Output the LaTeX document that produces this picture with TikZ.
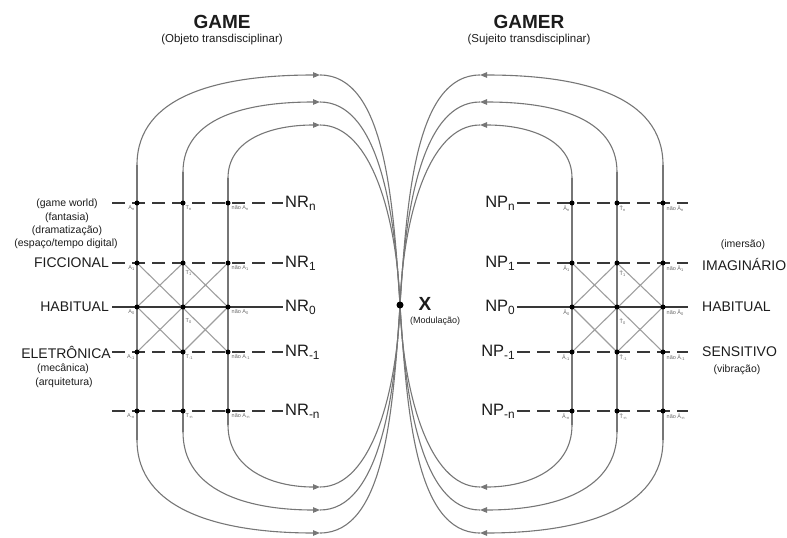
\documentclass[tikz,border=0pt]{standalone}
\usepackage{fontspec}
\setmainfont{Liberation Sans}
\usetikzlibrary{arrows.meta}

\definecolor{loopgray}{HTML}{767676}
\definecolor{crossgray}{HTML}{9E9E9E}
\definecolor{darkline}{HTML}{383838}
\definecolor{ink}{HTML}{1C1C1C}
\definecolor{labgray}{HTML}{666666}

% lowered, reduced index
\newcommand\dn[1]{\raisebox{-0.35ex}{\scalebox{0.72}{#1}}}

\begin{document}
\begin{tikzpicture}[x=1pt,y=-1pt,
  loopline/.style={draw=loopgray, line width=1.1pt},
  tipped/.style={loopline, -{Triangle[length=7pt,width=5.5pt]}},
  levelline/.style={draw=darkline, line width=1.3pt, dash pattern=on 13pt off 7pt},
  zeroline/.style={draw=darkline, line width=1.3pt},
  crossline/.style={draw=crossgray, line width=1.1pt},
  dot/.style={circle, fill=black, inner sep=0pt, minimum size=5pt},
  tiny/.style={font=\fontsize{5.5}{6}\selectfont, text=labgray, inner sep=0.5pt},
  level/.style={font=\fontsize{16.5}{17}\selectfont, text=ink, inner sep=2pt},
  side/.style={font=\fontsize{14}{14}\selectfont, text=ink, inner sep=0pt},
  note/.style={font=\fontsize{10.5}{11}\selectfont, text=ink, inner sep=0pt},
  title/.style={font=\bfseries\fontsize{19}{19}\selectfont, text=ink, inner sep=0pt},
  subtitle/.style={font=\fontsize{11.5}{12}\selectfont, text=ink, inner sep=0pt}]

\useasboundingbox (0,0) rectangle (787,538);
\coordinate (X) at (400,305);

% ---- headings ----
\node[title] (game) at (222,22) {GAME};
\node[subtitle] (gamesub) at (222,40) {(Objeto transdisciplinar)};
\node[title] (gamer) at (529,22) {GAMER};
\node[subtitle] (gamersub) at (529,40) {(Sujeito transdisciplinar)};

% ---- the six loops, left side and its mirror image ----
\foreach \sx/\dx in {1/0,-1/800}{
  \begin{scope}[xshift=\dx pt, xscale=\sx]
    % verticals
    \draw[loopline] (137,440) -- (137,165);
    \draw[loopline] (183,432) -- (183,172);
    \draw[loopline] (228,425) -- (228,178);
    % upper arcs
    \draw[tipped] (137,165) .. controls (137,95) and (220,75) .. (320,75);
    \draw[loopline] (320,75) .. controls (385,75) and (393,200) .. (X);
    \draw[tipped] (183,172) .. controls (183,118) and (245,102) .. (320,102);
    \draw[loopline] (320,102) .. controls (378,102) and (395,210) .. (X);
    \draw[tipped] (228,178) .. controls (228,140) and (270,125) .. (320,125);
    \draw[loopline] (320,125) .. controls (372,125) and (397,220) .. (X);
    % lower arcs
    \draw[tipped] (137,440) .. controls (137,510) and (220,533) .. (320,533);
    \draw[loopline] (320,533) .. controls (385,533) and (393,410) .. (X);
    \draw[tipped] (183,432) .. controls (183,490) and (245,510) .. (320,510);
    \draw[loopline] (320,510) .. controls (378,510) and (395,400) .. (X);
    \draw[tipped] (228,425) .. controls (228,468) and (270,487) .. (320,487);
    \draw[loopline] (320,487) .. controls (372,487) and (397,390) .. (X);
  \end{scope}
}

% ---- grid points ----
\foreach \r/\ry in {pn/203,p1/263,z/307,m1/352,mn/411}{
  \coordinate (La\r) at (137,\ry);
  \coordinate (Lt\r) at (183,\ry);
  \coordinate (Ln\r) at (228,\ry);
  \coordinate (Ra\r) at (572,\ry);
  \coordinate (Rt\r) at (617,\ry);
  \coordinate (Rn\r) at (663,\ry);
  \coordinate (Ls\r) at (112,\ry);
  \coordinate (Re\r) at (688,\ry);
}

% ---- level names ----
\node[level, anchor=west] (NRpn) at (283,203) {NR\dn{n}};
\node[level, anchor=west] (NRp1) at (283,263) {NR\dn{1}};
\node[level, anchor=west] (NRz)  at (283,307) {NR\dn{0}};
\node[level, anchor=west] (NRm1) at (283,352) {NR\dn{-1}};
\node[level, anchor=west] (NRmn) at (283,411) {NR\dn{-n}};
\node[level, anchor=east] (NPpn) at (517,203) {NP\dn{n}};
\node[level, anchor=east] (NPp1) at (517,263) {NP\dn{1}};
\node[level, anchor=east] (NPz)  at (517,307) {NP\dn{0}};
\node[level, anchor=east] (NPm1) at (517,352) {NP\dn{-1}};
\node[level, anchor=east] (NPmn) at (517,411) {NP\dn{-n}};

% ---- level lines ----
\foreach \r in {pn,p1,m1,mn}{
  \draw[levelline] (Ls\r) -- (NR\r.west);
  \draw[levelline] (NP\r.east) -- (Re\r);
}
\draw[zeroline] (Lsz) -- (NRz.west);
\draw[zeroline] (NPz.east) -- (Rez);

% ---- crossings between levels 1 and -1 ----
\foreach \s in {L,R}{
  \draw[crossline] (\s ap1) -- (\s nm1);
  \draw[crossline] (\s np1) -- (\s am1);
  \draw[crossline] (\s tp1) -- (\s az) -- (\s tm1);
  \draw[crossline] (\s tp1) -- (\s nz) -- (\s tm1);
}

% ---- dots ----
\foreach \s in {L,R}{
  \foreach \c in {a,t,n}{
    \foreach \r in {pn,p1,z,m1,mn}{
      \node[dot] at (\s\c\r) {};
    }
  }
}
\node[dot, minimum size=7pt] (Xdot) at (X) {};
\node[font=\bfseries\fontsize{19}{19}\selectfont, text=ink, inner sep=0pt] (Xlbl) at (425,304) {X};
\node[font=\fontsize{9}{9}\selectfont, text=ink, inner sep=0pt, anchor=west] (modl) at (410,321) {(Modulação)};

% ---- point labels, left ----
\node[tiny, anchor=north east] (la1) at (135,205) {A\dn{n}};
\node[tiny, anchor=north west] (lt1) at (185,205) {T\dn{n}};
\node[tiny, anchor=north west] (ln1) at (231,205) {não A\dn{n}};
\node[tiny, anchor=north east] (la2) at (135,265) {A\dn{1}};
\node[tiny, anchor=north west] (lt2) at (185,270) {T\dn{1}};
\node[tiny, anchor=north west] (ln2) at (231,265) {não A\dn{1}};
\node[tiny, anchor=north east] (la3) at (135,309) {A\dn{0}};
\node[tiny, anchor=north west] (lt3) at (185,318) {T\dn{0}};
\node[tiny, anchor=north west] (ln3) at (231,309) {não A\dn{0}};
\node[tiny, anchor=north east] (la4) at (135,354) {A\dn{-1}};
\node[tiny, anchor=north west] (lt4) at (185,354) {T\dn{-1}};
\node[tiny, anchor=north west] (ln4) at (231,354) {não A\dn{-1}};
\node[tiny, anchor=north east] (la5) at (135,413) {A\dn{-n}};
\node[tiny, anchor=north west] (lt5) at (185,413) {T\dn{-n}};
\node[tiny, anchor=north west] (ln5) at (231,413) {não A\dn{-n}};

% ---- point labels, right ----
\node[tiny, anchor=north east] (ra1) at (570,205) {Ā\dn{n}};
\node[tiny, anchor=north west] (rt1) at (619,205) {T̄\dn{n}};
\node[tiny, anchor=north west] (rn1) at (666,205) {não Ā\dn{n}};
\node[tiny, anchor=north east] (ra2) at (570,265) {Ā\dn{1}};
\node[tiny, anchor=north west] (rt2) at (619,270) {T̄\dn{1}};
\node[tiny, anchor=north west] (rn2) at (666,265) {não Ā\dn{1}};
\node[tiny, anchor=north east] (ra3) at (570,309) {Ā\dn{0}};
\node[tiny, anchor=north west] (rt3) at (619,318) {T̄\dn{0}};
\node[tiny, anchor=north west] (rn3) at (666,309) {não Ā\dn{0}};
\node[tiny, anchor=north east] (ra4) at (570,354) {Ā\dn{-1}};
\node[tiny, anchor=north west] (rt4) at (619,354) {T̄\dn{-1}};
\node[tiny, anchor=north west] (rn4) at (666,354) {não Ā\dn{-1}};
\node[tiny, anchor=north east] (ra5) at (570,413) {Ā\dn{-n}};
\node[tiny, anchor=north west] (rt5) at (619,413) {T̄\dn{-n}};
\node[tiny, anchor=north west] (rn5) at (666,413) {não Ā\dn{-n}};

% ---- side captions, game ----
\node[note] (gw)  at (67,204) {(game world)};
\node[note] (fan) at (67,218) {(fantasia)};
\node[note] (dra) at (67,231) {(dramatização)};
\node[note] (esp) at (66,244) {(espaço/tempo digital)};
\node[side, anchor=east] (fic) at (109,263) {FICCIONAL};
\node[side, anchor=east] (habL) at (109,307) {HABITUAL};
\node[side, anchor=east] (ele) at (111,352) {ELETRÔNICA};
\node[note] (mec) at (63,369) {(mecânica)};
\node[note] (arq) at (64,383) {(arquitetura)};

% ---- side captions, gamer ----
\node[note] (ime) at (743,245) {(imersão)};
\node[side, anchor=west] (ima) at (702,264) {IMAGINÁRIO};
\node[side, anchor=west] (habR) at (702,307) {HABITUAL};
\node[side, anchor=west] (sen) at (702,352) {SENSITIVO};
\node[note] (vib) at (737,370) {(vibração)};
\end{tikzpicture}
\end{document}
